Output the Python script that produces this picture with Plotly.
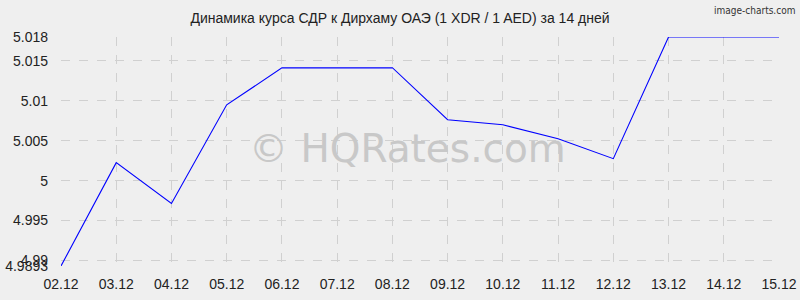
import plotly.graph_objects as go

dates = ["02.12", "03.12", "04.12", "05.12", "06.12", "07.12", "08.12",
         "09.12", "10.12", "11.12", "12.12", "13.12", "14.12", "15.12"]
rates = [4.9893, 5.00225, 4.99713, 5.0095, 5.01413, 5.0141, 5.01415,
         5.00763, 5.0070, 5.00525, 5.00275, 5.018, 5.018, 5.018]
y_ticks = [4.9893, 4.99, 4.995, 5, 5.005, 5.01, 5.015, 5.018]
y_ticktext = ["4.9893", "4.99", "4.995", "5", "5.005", "5.01", "5.015", "5.018"]

fig = go.Figure()
fig.add_trace(go.Scatter(x=list(range(len(dates))), y=rates, mode="lines",
                         line=dict(color="#0000ff", width=1.1), hoverinfo="skip"))

fig.update_layout(
    width=800, height=300,
    margin=dict(l=61, r=21, t=37, b=34),
    paper_bgcolor="#efefef", plot_bgcolor="#efefef",
    showlegend=False,
    font=dict(family="Liberation Sans, Arial", size=14, color="#333333"),
    title=dict(text="Динамика курса СДР к Дирхаму ОАЭ (1 XDR / 1 AED) за 14 дней",
               x=0.5, xanchor="center", y=1 - 18 / 300, yanchor="middle",
               font=dict(size=14, color="#222222")),
    xaxis=dict(range=[0, len(dates) - 1], tickvals=list(range(len(dates))), ticktext=dates,
               showgrid=True, gridcolor="#d0d0d0", griddash="dash", gridwidth=1,
               zeroline=False, showline=False, ticks="", ticklabelstandoff=8,
               automargin=False, tickfont=dict(size=14, color="#222222")),
    yaxis=dict(range=[4.9893, 5.018], tickvals=y_ticks, ticktext=y_ticktext,
               showgrid=True, gridcolor="#d0d0d0", griddash="dash", gridwidth=1,
               zeroline=False, showline=False, ticks="", ticklabelstandoff=12,
               automargin=False, tickfont=dict(size=14, color="#222222")),
    annotations=[
        dict(text="© HQRates.com", xref="paper", yref="paper", x=(407 - 61) / 718, y=(266 - 148) / 229,
             showarrow=False, font=dict(family="DejaVu Sans", size=39, color="#c8c8c8")),
        dict(text="image-charts.com", xref="paper", yref="paper",
             x=(797 - 61) / 718, y=1 + (37 - 10) / 229, xanchor="right", yanchor="middle",
             showarrow=False, font=dict(family="DejaVu Sans Condensed", size=10, color="#333333")),
    ],
)

fig.write_html("out.html")
